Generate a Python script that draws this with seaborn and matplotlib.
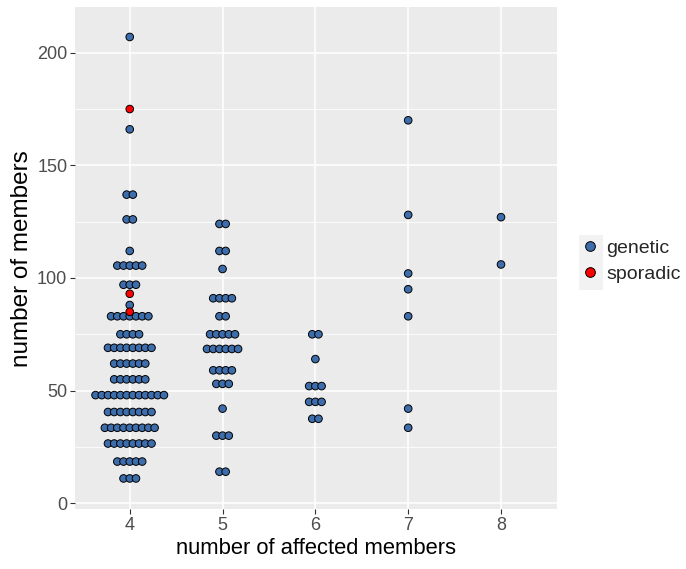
import numpy as np
import pandas as pd
import matplotlib
matplotlib.use('Agg')
import matplotlib.pyplot as plt
from matplotlib.ticker import MultipleLocator
from matplotlib.patches import Rectangle
import seaborn as sns

# %% data: one entry per row of stacked dots
affected = [4, 4, 4, 4, 4, 4, 4, 4, 4, 4, 4, 4, 4, 4, 4, 4, 4, 4, 4, 4, 4, 4,
            5, 5, 5, 5, 5, 5, 5, 5, 5, 5, 5, 5,
            6, 6, 6, 6, 6,
            7, 7, 7, 7, 7, 7, 7,
            8, 8]
members = [207, 175, 166, 137, 126, 112, 105.5, 97, 93, 88, 85, 83, 75, 69, 62, 55, 48, 40.5, 33.5, 26.5, 18.5, 11,
           124, 112, 104, 91, 83, 75, 68.5, 59, 53, 42, 30, 14,
           75, 64, 52, 45, 37.5,
           170, 128, 102, 95, 83, 42, 33.5,
           127, 106]
counts = [1, 1, 1, 2, 2, 1, 5, 3, 1, 1, 1, 7, 4, 8, 6, 6, 12, 8, 9, 8, 5, 3,
          2, 2, 1, 4, 2, 5, 6, 4, 3, 1, 3, 2,
          2, 1, 3, 3, 2,
          1, 1, 1, 1, 1, 1, 1,
          1, 1]
kind = ['genetic', 'sporadic', 'genetic', 'genetic', 'genetic', 'genetic', 'genetic', 'genetic',
        'sporadic', 'genetic', 'sporadic'] + ['genetic'] * 37

# expand each row into single dots, stacked centred on the category
step = 0.067
rows = []
for a, m, c, k in zip(affected, members, counts, kind):
    for i in range(c):
        rows.append({'affected': a, 'members': m, 'pos': a + (i - (c - 1) / 2) * step, 'type': k})
df = pd.DataFrame(rows)
# sporadic dots are drawn on top
df['order'] = (df['type'] == 'sporadic').astype(int)
df = df.sort_values('order', kind='stable')

# %% plot
sns.set_theme(style='darkgrid', rc={'axes.facecolor': '#EBEBEB', 'grid.color': 'white'})
plt.rcParams['font.family'] = ['Liberation Sans', 'DejaVu Sans']

fig = plt.figure(figsize=(6.86, 5.69), dpi=100)
ax = fig.add_axes([0.1093, 0.1049, 0.7022, 0.8828])

palette = {'genetic': '#3D6DAB', 'sporadic': '#FF0000'}
sns.scatterplot(data=df, x='pos', y='members', hue='type', palette=palette, s=30,
                edgecolor='black', linewidth=0.7, ax=ax, zorder=3)

ax.set_xlim(3.41, 8.60)
ax.set_ylim(-2.7, 220.3)
ax.set_xticks([4, 5, 6, 7, 8])
ax.set_yticks([0, 50, 100, 150, 200])
ax.yaxis.set_minor_locator(MultipleLocator(25))
ax.grid(which='major', color='white', linewidth=1.1)
ax.grid(which='minor', axis='y', color='white', linewidth=0.6)
ax.tick_params(axis='both', which='major', labelsize=13, labelcolor='#4D4D4D',
               length=3.5, width=0.8, color='#333333', pad=2, bottom=True, left=True)
ax.tick_params(which='minor', length=0)
for sp in ax.spines.values():
    sp.set_visible(False)
ax.set_xlabel('number of affected members', fontsize=15.8, color='black', labelpad=3)
ax.set_ylabel('number of members', fontsize=17.5, color='black', labelpad=3)

# legend on the right, gray key boxes like ggplot
handles, labels = ax.get_legend_handles_labels()
for h in handles:
    h.set_markersize(7)
fig.patches.append(Rectangle((579 / 686, 1 - 290 / 569), 24 / 686, 55 / 569,
                             transform=fig.transFigure, facecolor='#F2F2F2',
                             edgecolor='none', zorder=0))
leg = fig.legend(handles, labels, loc='center left', bbox_to_anchor=(582 / 686, 1 - 261 / 569),
                 frameon=False, fontsize=14, handletextpad=0.45, labelspacing=0.45,
                 borderaxespad=0, borderpad=0, handlelength=0.8)
ax.get_legend().remove()

plt.savefig('out.png', dpi=100)
